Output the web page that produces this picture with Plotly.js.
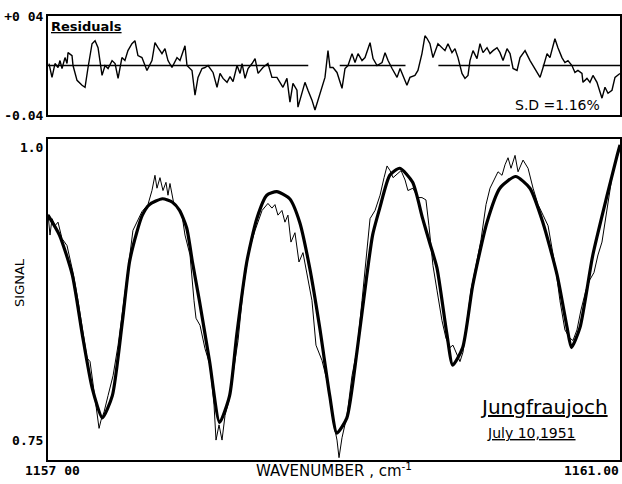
<!DOCTYPE html>
<html>
<head>
<meta charset="utf-8">
<script src="https://cdn.plot.ly/plotly-3.0.1.min.js"></script>
<style>html,body{margin:0;padding:0;background:#fff;}#chart{width:622px;height:484px;}</style>
</head>
<body>
<div id="chart"></div>
<script>
// ---- Data ----
const fitWavenumber = [1157.00,1157.08,1157.17,1157.24,1157.31,1157.38,1157.45,1157.52,1157.57,1157.62,1157.66,1157.71,1157.80,1157.87,1157.92,1157.97,1158.01,1158.06,1158.13,1158.20,1158.27,1158.32,1158.39,1158.46,1158.53,1158.60,1158.69,1158.76,1158.83,1158.90,1158.97,1159.02,1159.09,1159.16,1159.23,1159.27,1159.32,1159.39,1159.46,1159.55,1159.62,1159.67,1159.72,1159.79,1159.83,1159.90,1159.97,1160.07,1160.16,1160.27,1160.37,1160.46,1160.56,1160.63,1160.66,1160.72,1160.81,1160.91,1160.98,1161.00];
const fitSignal = [0.942,0.925,0.891,0.840,0.794,0.769,0.788,0.851,0.902,0.927,0.942,0.951,0.956,0.953,0.946,0.931,0.902,0.868,0.817,0.765,0.788,0.840,0.902,0.939,0.959,0.962,0.956,0.936,0.897,0.846,0.788,0.756,0.769,0.825,0.891,0.925,0.948,0.976,0.982,0.970,0.939,0.918,0.897,0.840,0.814,0.829,0.882,0.936,0.965,0.975,0.965,0.936,0.891,0.846,0.829,0.846,0.908,0.959,0.993,1.002];

const obsWavenumber = [1157.000,1157.014,1157.028,1157.049,1157.070,1157.098,1157.133,1157.175,1157.210,1157.245,1157.273,1157.294,1157.322,1157.343,1157.357,1157.371,1157.392,1157.420,1157.455,1157.490,1157.524,1157.559,1157.594,1157.622,1157.657,1157.699,1157.727,1157.748,1157.762,1157.783,1157.804,1157.825,1157.839,1157.853,1157.881,1157.909,1157.937,1157.958,1157.993,1158.021,1158.035,1158.063,1158.098,1158.133,1158.161,1158.175,1158.196,1158.217,1158.238,1158.266,1158.294,1158.329,1158.364,1158.406,1158.448,1158.497,1158.538,1158.566,1158.587,1158.608,1158.636,1158.657,1158.678,1158.699,1158.727,1158.755,1158.783,1158.818,1158.846,1158.874,1158.916,1158.951,1158.993,1159.021,1159.035,1159.056,1159.091,1159.126,1159.161,1159.196,1159.224,1159.252,1159.287,1159.322,1159.350,1159.371,1159.392,1159.413,1159.441,1159.469,1159.497,1159.517,1159.552,1159.587,1159.615,1159.643,1159.664,1159.692,1159.720,1159.755,1159.783,1159.811,1159.832,1159.853,1159.881,1159.902,1159.930,1159.958,1159.993,1160.028,1160.063,1160.091,1160.119,1160.147,1160.175,1160.196,1160.217,1160.238,1160.266,1160.287,1160.322,1160.357,1160.392,1160.427,1160.462,1160.497,1160.524,1160.552,1160.580,1160.615,1160.650,1160.671,1160.699,1160.727,1160.762,1160.790,1160.818,1160.846,1160.874,1160.902,1160.923,1160.951,1160.979,1161.000];
const obsSignal = [0.943,0.925,0.939,0.933,0.936,0.922,0.916,0.893,0.869,0.840,0.820,0.817,0.791,0.771,0.760,0.767,0.774,0.788,0.805,0.831,0.861,0.895,0.929,0.936,0.945,0.951,0.963,0.976,0.965,0.974,0.963,0.970,0.959,0.969,0.951,0.948,0.942,0.925,0.908,0.869,0.854,0.848,0.828,0.814,0.780,0.750,0.763,0.750,0.771,0.784,0.805,0.835,0.878,0.912,0.929,0.946,0.952,0.948,0.951,0.942,0.946,0.936,0.942,0.919,0.927,0.902,0.910,0.887,0.869,0.831,0.818,0.801,0.767,0.750,0.735,0.752,0.771,0.805,0.827,0.869,0.904,0.939,0.946,0.959,0.974,0.984,0.980,0.974,0.977,0.980,0.972,0.963,0.965,0.957,0.957,0.955,0.933,0.899,0.878,0.852,0.837,0.829,0.831,0.825,0.817,0.825,0.852,0.878,0.899,0.921,0.951,0.965,0.972,0.979,0.976,0.985,0.991,0.982,0.993,0.979,0.989,0.982,0.965,0.951,0.942,0.933,0.914,0.895,0.869,0.844,0.837,0.835,0.844,0.861,0.878,0.887,0.893,0.908,0.919,0.942,0.955,0.980,0.991,0.999];

const resWavenumber = [1157.007,1157.028,1157.049,1157.070,1157.084,1157.098,1157.119,1157.133,1157.140,1157.168,1157.175,1157.203,1157.238,1157.259,1157.280,1157.308,1157.329,1157.350,1157.378,1157.399,1157.420,1157.448,1157.469,1157.490,1157.517,1157.538,1157.559,1157.587,1157.608,1157.629,1157.657,1157.692,1157.727,1157.748,1157.769,1157.797,1157.818,1157.839,1157.867,1157.902,1157.923,1157.958,1157.972,1158.007,1158.028,1158.049,1158.077,1158.098,1158.119,1158.154,1158.182,1158.203,1158.224,1158.252,1158.273,1158.294,1158.322,1158.343,1158.357,1158.378,1158.399,1158.427,1158.448,1158.469,1158.503,1158.538,1158.566,1158.601,1158.622,1158.643,1158.671,1158.692,1158.713,1158.741,1158.748,1158.776,1158.797,1158.818,1158.846,1158.867,1158.888,1158.916,1158.937,1158.958,1158.972,1158.993,1159.021,1159.056,1159.077,1159.098,1159.126,1159.147,1159.168,1159.196,1159.217,1159.252,1159.273,1159.301,1159.336,1159.357,1159.378,1159.406,1159.441,1159.462,1159.483,1159.510,1159.531,1159.566,1159.587,1159.615,1159.636,1159.650,1159.671,1159.692,1159.727,1159.755,1159.776,1159.797,1159.825,1159.846,1159.867,1159.895,1159.916,1159.937,1159.951,1159.972,1160.000,1160.021,1160.042,1160.070,1160.091,1160.112,1160.140,1160.161,1160.182,1160.210,1160.231,1160.252,1160.280,1160.301,1160.336,1160.371,1160.406,1160.441,1160.462,1160.490,1160.510,1160.531,1160.545,1160.566,1160.594,1160.615,1160.636,1160.664,1160.685,1160.706,1160.734,1160.741,1160.769,1160.790,1160.811,1160.839,1160.860,1160.874,1160.895,1160.916,1160.944,1160.965,1161.000];
const residual = [0.0016,-0.0096,0.0016,-0.0016,0.004,-0.0024,0.0064,0.0016,0.0104,0.008,0,-0.012,-0.016,-0.0176,-0.0016,0.0176,0.020,0.0144,-0.008,0,-0.0024,0.004,0.0016,-0.0104,0.0064,0.004,0.012,0.0176,0.020,0.008,0.0064,-0.004,0.004,0.0184,0.0144,0.0096,0.0136,0.004,-0.0016,0.0064,0.004,0.016,0,-0.004,-0.024,-0.0096,-0.0024,-0.0016,0,-0.0056,-0.0176,-0.0064,-0.0104,-0.0136,-0.009,-0.013,0,-0.0064,0.0016,-0.0104,-0.0024,0.0016,0.0056,-0.0064,-0.0016,0.0016,-0.0096,-0.0096,-0.0136,-0.0176,-0.0104,-0.0296,-0.0144,-0.020,-0.0336,-0.0224,-0.0136,-0.020,-0.028,-0.036,-0.028,-0.0176,-0.0096,0.012,-0.0016,-0.0016,-0.0056,-0.0184,-0.0024,0,0.0096,0.0024,0.0096,0.004,0.0064,0.0184,0.0056,0,0.0024,0.0104,0.004,-0.0024,-0.0096,-0.0024,-0.008,-0.016,-0.0096,-0.008,-0.004,0.0096,0.024,0.022,0.0176,0.0064,0.0176,0.0144,0.012,0.0176,0.0104,0.0136,0.0064,-0.0064,-0.0104,-0.008,0.004,0.012,0.0056,0.0176,0.0104,0.0144,0.0096,0.012,0.0144,0.0104,0.004,0.0136,0.0096,-0.0024,-0.004,0.0064,0.012,0.004,-0.0024,-0.0096,-0.0016,0.0096,0.0064,0.0144,0.0216,0.0144,0.0064,0.0024,0.004,0,-0.0056,-0.004,-0.0064,-0.0136,-0.0104,-0.0136,-0.008,-0.0136,-0.0216,-0.0264,-0.0176,-0.0224,-0.020,-0.0096,-0.0064];

// zero reference line of the residual panel, drawn in separate pieces
const zeroSegStart = [1157.00, 1159.04, 1159.73, 1160.46];
const zeroSegEnd   = [1158.82, 1159.50, 1160.23, 1161.00];

const xTickLabels = ["1157 00", "1161.00"];
const signalTicks = [0.75, 1.0];
const signalTickText = ["0.75", "1.0"];
const residualTicks = [-0.04, 0.04];
const residualTickText = ["-0.04", "+0 04"];

// ---- Build traces ----
const zx = [], zy = [];
zeroSegStart.forEach((s, i) => { zx.push(s, zeroSegEnd[i], null); zy.push(0, 0, null); });

const monoFont = {family: 'DejaVu Sans Mono', size: 13, color: '#000', weight: 'bold'};
const sansFont = 'DejaVu Sans, Liberation Sans, sans-serif';

const traces = [
  {x: obsWavenumber, y: obsSignal, xaxis: 'x', yaxis: 'y', mode: 'lines',
   line: {color: '#000', width: 1}, hoverinfo: 'skip'},
  {x: fitWavenumber, y: fitSignal, xaxis: 'x', yaxis: 'y', mode: 'lines',
   line: {color: '#000', width: 3.2, shape: 'spline', smoothing: 0.6}, hoverinfo: 'skip'},
  {x: zx, y: zy, xaxis: 'x2', yaxis: 'y2', mode: 'lines',
   line: {color: '#000', width: 1.5}, connectgaps: false, hoverinfo: 'skip'},
  {x: resWavenumber, y: residual, xaxis: 'x2', yaxis: 'y2', mode: 'lines',
   line: {color: '#000', width: 1.4}, hoverinfo: 'skip'}
];

const axisLine = {showline: true, linecolor: '#000', linewidth: 2, mirror: true,
                  showgrid: false, zeroline: false, ticks: ''};

function note(x, y, text, font, extra) {
  return Object.assign({xref: 'paper', yref: 'paper', x: x, y: y, text: text,
    xanchor: 'center', yanchor: 'middle', showarrow: false, font: font}, extra || {});
}

const layout = {
  width: 622, height: 484,
  margin: {l: 48, r: 2, t: 16, b: 24},
  paper_bgcolor: '#fff', plot_bgcolor: '#fff',
  showlegend: false,
  xaxis: Object.assign({}, axisLine, {domain: [0, 1], range: [1157, 1161], anchor: 'y',
          showticklabels: false}),
  yaxis: Object.assign({}, axisLine, {domain: [0, 0.723], range: [0.733, 1.007], anchor: 'x',
          tickmode: 'array', tickvals: signalTicks, ticktext: signalTickText, tickfont: monoFont}),
  xaxis2: Object.assign({}, axisLine, {domain: [0, 1], range: [1157, 1161], anchor: 'y2',
          showticklabels: false}),
  yaxis2: Object.assign({}, axisLine, {domain: [0.777, 1], range: [-0.04, 0.04], anchor: 'x2',
          tickmode: 'array', tickvals: residualTicks, ticktext: residualTickText, tickfont: monoFont}),
  annotations: [
    note(0.068, 0.977, '<b><u>Residuals</u></b>', {family: sansFont, size: 13, color: '#000'}),
    note(0.89, 0.80, 'S.D =1.16%', {family: sansFont, size: 14, color: '#000'}),
    note(0.867, 0.119, '<u>Jungfraujoch</u>', {family: sansFont, size: 20, color: '#000'}),
    note(0.846, 0.061, '<u>July 10,1951</u>', {family: sansFont, size: 14, color: '#000'}),
    note(-0.049, 0.401, 'SIGNAL', {family: sansFont, size: 13, color: '#000'}, {textangle: -90}),
    note(0.500, -0.023, 'WAVENUMBER , cm<sup>-1</sup>', {family: sansFont, size: 15, color: '#000'}),
    note(0.007, -0.023, xTickLabels[0], monoFont),
    note(1, -0.023, xTickLabels[1], monoFont, {xanchor: 'right', xshift: 1})
  ]
};

Plotly.newPlot('chart', traces, layout, {staticPlot: true, displayModeBar: false});
</script>
</body>
</html>
